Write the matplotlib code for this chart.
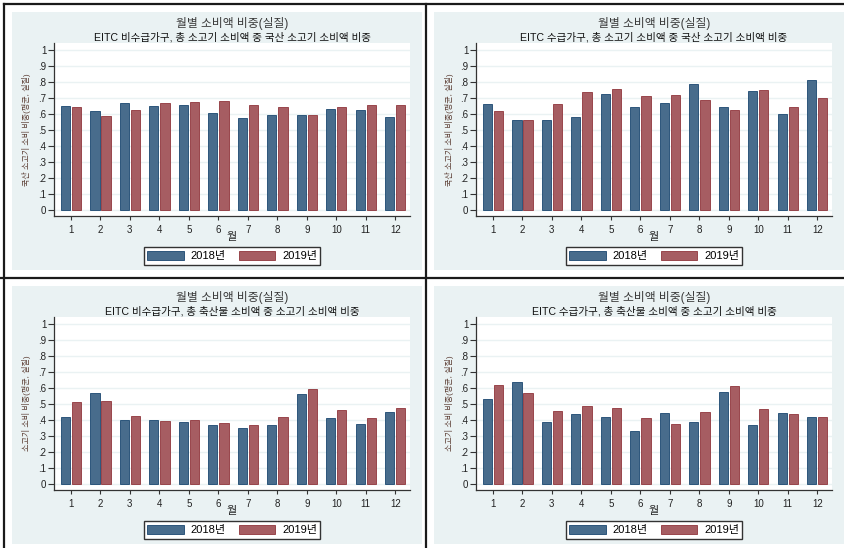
import numpy as np
import matplotlib
matplotlib.use("Agg")
import matplotlib.pyplot as plt
from matplotlib.patches import Rectangle, Patch
from matplotlib.lines import Line2D

plt.rcParams['font.family'] = ['Liberation Sans', 'Noto Sans CJK KR', 'DejaVu Sans']

# ---- data -------------------------------------------------------------
months = np.arange(1, 13)
month_labels = [str(m) for m in months]
ytick_values = np.round(np.arange(0, 1.01, 0.1), 1)
ytick_labels = ['0', '.1', '.2', '.3', '.4', '.5', '.6', '.7', '.8', '.9', '1']
years = ['2018년', '2019년']

main_title = '월별 소비액 비중(실질)'
subtitles = [
    'EITC 비수급가구, 총 소고기 소비액 중 국산 소고기 소비액 비중',
    'EITC 수급가구, 총 소고기 소비액 중 국산 소고기 소비액 비중',
    'EITC 비수급가구, 총 축산물 소비액 중 소고기 소비액 비중',
    'EITC 수급가구, 총 축산물 소비액 중 소고기 소비액 비중',
]
ylabels = [
    '국산 소고기 소비 비중(평균, 실질)',
    '국산 소고기 소비 비중(평균, 실질)',
    '소고기 소비 비중(평균, 실질)',
    '소고기 소비 비중(평균, 실질)',
]
x_title = '월'

nonrecip_domestic_2018 = [0.651, 0.617, 0.667, 0.651, 0.657, 0.607, 0.578, 0.597, 0.597, 0.632, 0.626, 0.582]
nonrecip_domestic_2019 = [0.647, 0.588, 0.628, 0.672, 0.676, 0.682, 0.657, 0.647, 0.593, 0.647, 0.657, 0.657]
recip_domestic_2018 = [0.665, 0.563, 0.563, 0.582, 0.726, 0.647, 0.672, 0.790, 0.642, 0.742, 0.599, 0.815]
recip_domestic_2019 = [0.617, 0.563, 0.663, 0.738, 0.757, 0.715, 0.717, 0.688, 0.628, 0.751, 0.647, 0.701]
nonrecip_beef_2018 = [0.422, 0.568, 0.399, 0.403, 0.389, 0.368, 0.353, 0.368, 0.561, 0.412, 0.376, 0.451]
nonrecip_beef_2019 = [0.514, 0.522, 0.424, 0.395, 0.399, 0.383, 0.368, 0.418, 0.597, 0.464, 0.412, 0.476]
recip_beef_2018 = [0.532, 0.636, 0.389, 0.439, 0.422, 0.333, 0.447, 0.389, 0.576, 0.368, 0.443, 0.422]
recip_beef_2019 = [0.622, 0.568, 0.459, 0.489, 0.476, 0.414, 0.378, 0.449, 0.615, 0.472, 0.439, 0.418]

series = [
    (nonrecip_domestic_2018, nonrecip_domestic_2019),
    (recip_domestic_2018, recip_domestic_2019),
    (nonrecip_beef_2018, nonrecip_beef_2019),
    (recip_beef_2018, recip_beef_2019),
]

# ---- style --------------------------------------------------------------
W, H = 844, 548
BG = '#EAF2F3'
FILL = ['#486C8C', '#A65D62']
EDGE = ['#1A476F', '#90353B']
AXC = '#333333'

fig = plt.figure(figsize=(W / 100, H / 100), dpi=100)
fig.patch.set_facecolor('white')


def fx(px):
    return px / W


def fy(py):
    return 1 - py / H


offsets = [(0, 0), (422, 0), (0, 274), (422, 274)]

for i, (ox, oy) in enumerate(offsets):
    # graph region background
    right_edge = 844 if ox > 0 else 422 + ox
    fig.add_artist(Rectangle((fx(12 + ox), fy(270 + oy)), fx(right_edge - 12 - ox), (258) / H,
                             transform=fig.transFigure, facecolor=BG, edgecolor='none', zorder=-5))

    left, right, top, bottom = 54 + ox, 410 + ox, 43 + oy, 216 + oy
    ax = fig.add_axes([fx(left), fy(bottom), fx(right - left), (bottom - top) / H])
    ax.set_facecolor('white')

    v18, v19 = series[i]
    ax.bar(months - 0.187, v18, width=0.32, color=FILL[0], edgecolor=EDGE[0], linewidth=0.6,
           label=years[0], zorder=3)
    ax.bar(months + 0.187, v19, width=0.32, color=FILL[1], edgecolor=EDGE[1], linewidth=0.6,
           label=years[1], zorder=3)

    ax.set_xlim(0.43, 12.5)
    ax.set_ylim(-0.036, 1.044)
    ax.set_xticks(months)
    ax.set_xticklabels(month_labels)
    ax.set_yticks(ytick_values)
    ax.set_yticklabels(ytick_labels)
    ax.grid(axis='y', color=BG, linewidth=1.0, zorder=0)
    ax.set_axisbelow(True)

    for s in ['top', 'right']:
        ax.spines[s].set_visible(False)
    for s in ['left', 'bottom']:
        ax.spines[s].set_color(AXC)
        ax.spines[s].set_linewidth(0.9)

    ax.tick_params(axis='y', direction='out', length=4, width=0.8, color=AXC, pad=1.5,
                   labelsize=7, labelcolor='#222222')
    ax.tick_params(axis='x', direction='out', length=3, width=0.8, color=AXC, pad=3.5,
                   labelsize=7, labelcolor='#222222')

    cx = (left + right) / 2
    fig.text(fx(cx), fy(24 + oy), main_title, ha='center', va='center', fontsize=8.5, color='#3a3a3a')
    fig.text(fx(cx), fy(37 + oy), subtitles[i], ha='center', va='center', fontsize=7.6, color='#111111')
    fig.text(fx(cx), fy(237 + oy), x_title, ha='center', va='center', fontsize=8, color='#222222')
    fig.text(fx(27 + ox), fy((top + bottom) / 2), ylabels[i], ha='center', va='center', rotation=90,
             fontsize=5.8, color='#5a3c32')

    handles = [Patch(facecolor=FILL[0], edgecolor=EDGE[0], linewidth=0.6),
               Patch(facecolor=FILL[1], edgecolor=EDGE[1], linewidth=0.6)]
    leg = ax.legend(handles, years, loc='center', bbox_to_anchor=(fx(232 + ox), fy(256 + oy)),
                    bbox_transform=fig.transFigure, ncol=2, fontsize=8, frameon=True,
                    fancybox=False, framealpha=1, edgecolor='#333333', handlelength=3.3,
                    handleheight=0.9, handletextpad=0.6, columnspacing=1.2, borderpad=0.3,
                    borderaxespad=0)
    leg.get_frame().set_linewidth(1.0)
    leg.get_frame().set_facecolor('white')

# panel frame lines
line_kw = dict(transform=fig.transFigure, color='#1a1a1a', linewidth=1.6, zorder=10)
fig.add_artist(Line2D([fx(4), 1], [fy(4), fy(4)], **line_kw))
fig.add_artist(Line2D([0, 1], [fy(278), fy(278)], **line_kw))
fig.add_artist(Line2D([fx(4), fx(4)], [fy(4), 0], **line_kw))
fig.add_artist(Line2D([fx(426.5), fx(426.5)], [fy(4), 0], **line_kw))

fig.savefig('out.png', dpi=100, facecolor='white')
